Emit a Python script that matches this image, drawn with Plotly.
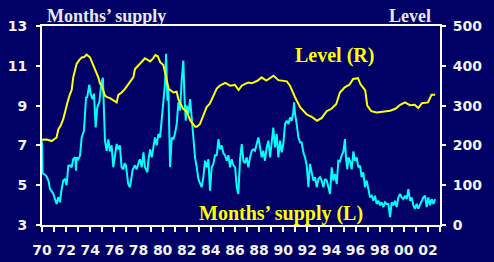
import plotly.graph_objects as go

# ---- Data ----
level_years = [1970.0, 1970.4, 1970.8, 1971.0, 1971.21, 1971.35, 1971.55, 1971.76, 1971.99, 1972.15,
               1972.32, 1972.46, 1972.59, 1972.87, 1973.1, 1973.29, 1973.5, 1973.7, 1973.98, 1974.25,
               1974.39, 1974.67, 1974.8, 1974.94, 1975.22, 1975.36, 1975.63, 1975.9, 1976.05, 1976.19,
               1976.33, 1976.6, 1976.88, 1977.29, 1977.57, 1977.71, 1978.12, 1978.54, 1978.96, 1979.2,
               1979.4, 1979.6, 1979.8, 1980.06, 1980.2, 1980.5, 1980.9, 1981.17, 1981.3, 1981.7,
               1982.0, 1982.3, 1982.7, 1982.83, 1983.1, 1983.5, 1983.66, 1983.9, 1984.3, 1984.49,
               1984.75, 1985.2, 1985.6, 1986.0, 1986.3, 1986.56, 1986.8, 1987.1, 1987.4, 1987.9,
               1988.2, 1988.6, 1989.2, 1989.6, 1990.3, 1990.56, 1990.98, 1991.4, 1991.95, 1992.4,
               1992.8, 1993.2, 1993.6, 1994.0, 1994.4, 1994.7, 1995.1, 1995.5, 1995.8, 1996.2,
               1996.4, 1996.8, 1996.97, 1997.3, 1997.75, 1998.3, 1998.86, 1999.3, 1999.7, 2000.1,
               2000.5, 2000.9, 2001.2, 2001.5, 2002.0, 2002.3, 2002.6]
level_values = [214, 215, 211, 216, 220, 240, 250, 266, 296, 312,
                329, 339, 371, 405, 415, 421, 422, 428, 421, 402,
                395, 371, 356, 350, 325, 322, 319, 314, 310, 308,
                327, 333, 342, 358, 371, 392, 406, 419, 411, 418,
                427, 424, 409, 402, 384, 342, 333, 335, 317, 292,
                285, 262, 247, 247, 254, 283, 297, 304, 333, 343,
                350, 357, 350, 352, 339, 350, 354, 358, 356, 363,
                371, 363, 375, 364, 361, 350, 321, 296, 278, 271,
                262, 269, 286, 292, 304, 333, 346, 353, 367, 369,
                354, 338, 300, 286, 283, 285, 287, 292, 302, 308,
                301, 302, 294, 306, 308, 327, 327]

supply_years = [1970.0, 1970.05, 1970.2, 1970.38, 1970.55, 1970.66, 1970.8, 1970.94, 1971.05, 1971.21,
                1971.35, 1971.49, 1971.6, 1971.76, 1971.9, 1972.04, 1972.18, 1972.3, 1972.46, 1972.59,
                1972.75, 1972.82, 1972.87, 1973.0, 1973.15, 1973.29, 1973.48, 1973.56, 1973.65, 1973.75,
                1973.92, 1974.03, 1974.2, 1974.31, 1974.45, 1974.58, 1974.75, 1974.86, 1974.94, 1975.05,
                1975.14, 1975.22, 1975.36, 1975.5, 1975.63, 1975.77, 1975.91, 1976.05, 1976.19, 1976.33,
                1976.46, 1976.6, 1976.74, 1976.85, 1976.96, 1977.15, 1977.29, 1977.4, 1977.51, 1977.71,
                1977.85, 1977.98, 1978.12, 1978.27, 1978.41, 1978.54, 1978.74, 1978.82, 1978.96, 1979.1,
                1979.24, 1979.37, 1979.51, 1979.65, 1979.79, 1979.93, 1980.06, 1980.2, 1980.29, 1980.4,
                1980.48, 1980.62, 1980.76, 1980.89, 1981.03, 1981.17, 1981.31, 1981.45, 1981.59, 1981.72,
                1981.81, 1981.92, 1982.0, 1982.14, 1982.28, 1982.41, 1982.55, 1982.69, 1982.83, 1982.97,
                1983.1, 1983.24, 1983.38, 1983.52, 1983.66, 1983.8, 1983.93, 1984.07, 1984.21, 1984.35,
                1984.49, 1984.63, 1984.76, 1984.9, 1985.04, 1985.18, 1985.32, 1985.46, 1985.59, 1985.73,
                1985.87, 1986.01, 1986.15, 1986.28, 1986.42, 1986.56, 1986.7, 1986.83, 1986.97, 1987.11,
                1987.25, 1987.39, 1987.53, 1987.66, 1987.8, 1987.94, 1988.08, 1988.22, 1988.35, 1988.49,
                1988.63, 1988.77, 1988.91, 1989.05, 1989.18, 1989.32, 1989.46, 1989.6, 1989.74, 1989.87,
                1990.01, 1990.15, 1990.29, 1990.43, 1990.57, 1990.7, 1990.84, 1990.9, 1990.98, 1991.12,
                1991.26, 1991.4, 1991.53, 1991.67, 1991.81, 1991.95, 1992.09, 1992.22, 1992.36, 1992.5,
                1992.64, 1992.78, 1992.92, 1993.05, 1993.19, 1993.33, 1993.47, 1993.61, 1993.75, 1993.88,
                1994.02, 1994.16, 1994.3, 1994.44, 1994.57, 1994.71, 1994.85, 1994.99, 1995.12, 1995.2,
                1995.32, 1995.4, 1995.54, 1995.68, 1995.82, 1995.95, 1996.09, 1996.23, 1996.37, 1996.5,
                1996.64, 1996.78, 1996.92, 1997.06, 1997.2, 1997.34, 1997.47, 1997.61, 1997.75, 1997.89,
                1998.03, 1998.16, 1998.3, 1998.44, 1998.58, 1998.72, 1998.86, 1998.99, 1999.13, 1999.27,
                1999.41, 1999.55, 1999.69, 1999.82, 1999.96, 2000.1, 2000.24, 2000.38, 2000.51, 2000.65,
                2000.79, 2000.93, 2001.07, 2001.2, 2001.34, 2001.48, 2001.62, 2001.76, 2001.9, 2002.03,
                2002.17, 2002.31, 2002.45, 2002.59]
supply_values = [7.2, 5.6, 5.55, 5.45, 5.2, 4.8, 4.7, 4.56, 4.35, 4.06,
                 4.4, 4.14, 4.7, 5.23, 5.3, 5.0, 5.98, 6.0, 5.9, 6.32,
                 6.4, 5.73, 6.4, 6.3, 6.48, 7.4, 7.74, 8.49, 9.4, 9.42,
                 10.05, 9.6, 9.33, 9.6, 7.9, 8.9, 9.17, 9.75, 10.17, 10.4,
                 9.1, 7.24, 6.73, 7.3, 6.7, 7.0, 5.9, 6.6, 7.07, 6.8,
                 7.0, 5.9, 5.8, 6.1, 6.0, 5.06, 4.9, 5.3, 5.76, 6.0,
                 5.8, 6.07, 6.3, 5.9, 6.65, 5.9, 5.65, 6.23, 6.8, 6.4,
                 6.9, 7.4, 7.0, 7.57, 7.4, 8.41, 9.1, 10.1, 11.6, 9.25,
                 9.8, 5.9, 7.4, 7.3, 7.6, 8.07, 9.17, 8.75, 10.34, 11.26,
                 9.5, 8.24, 9.0, 8.6, 9.33, 8.4, 7.3, 6.4, 5.9, 5.3,
                 5.1, 4.9, 5.4, 6.23, 5.9, 6.3, 4.72, 5.9, 6.07, 6.5,
                 6.5, 7.32, 6.8, 7.0, 6.6, 6.5, 6.23, 6.5, 5.9, 6.3,
                 6.0, 5.9, 4.9, 4.56, 6.3, 7.07, 6.23, 6.1, 6.4, 5.9,
                 6.4, 6.73, 6.8, 6.73, 7.07, 7.4, 6.9, 6.4, 6.73, 6.23,
                 6.9, 7.24, 6.4, 7.4, 7.9, 6.9, 7.57, 6.4, 7.24, 6.65,
                 7.07, 8.07, 8.24, 8.07, 8.4, 8.24, 8.66, 9.17, 8.58, 8.07,
                 7.4, 7.15, 7.15, 6.65, 6.4, 5.98, 4.9, 6.07, 5.65, 5.23,
                 5.4, 4.9, 5.32, 5.4, 5.23, 4.9, 5.32, 5.23, 4.9, 4.56,
                 5.9, 5.23, 5.56, 5.06, 6.23, 6.2, 6.5, 6.7, 7.32, 6.4,
                 5.8, 6.4, 6.23, 5.8, 6.7, 6.23, 6.4, 5.9, 5.98, 5.4,
                 5.65, 4.9, 5.23, 4.72, 4.39, 4.47, 4.22, 4.47, 4.06, 4.22,
                 3.99, 4.14, 3.9, 4.14, 4.06, 4.06, 3.39, 4.14, 3.99, 4.22,
                 3.9, 4.39, 4.56, 4.39, 4.3, 4.47, 4.3, 4.8, 4.22, 4.39,
                 3.99, 3.82, 4.06, 3.82, 3.99, 4.22, 4.39, 4.47, 3.9, 4.39,
                 3.99, 4.3, 4.06, 4.3]

x_tick_vals = list(range(1970, 2003, 2))
x_tick_text = ["70", "72", "74", "76", "78", "80", "82", "84", "86", "88",
               "90", "92", "94", "96", "98", "00", "02"]
left_ticks = [3, 5, 7, 9, 11, 13]
right_ticks = [0, 100, 200, 300, 400, 500]

BG = "#000066"
TXT = "#f2f2f2"
tick_font = dict(family="DejaVu Sans", size=14, color=TXT, weight="bold")
serif = "Liberation Serif"

fig = go.Figure()
fig.add_trace(go.Scatter(x=supply_years, y=supply_values, mode="lines",
                         line=dict(color="#00ffff", width=2), yaxis="y", showlegend=False))
fig.add_trace(go.Scatter(x=level_years, y=level_values, mode="lines",
                         line=dict(color="#ffff00", width=2), yaxis="y2", showlegend=False))

fig.update_layout(
    width=494, height=262,
    margin=dict(l=42, r=54, t=26, b=37, autoexpand=False),
    paper_bgcolor=BG, plot_bgcolor=BG, hovermode=False,
    xaxis=dict(range=[1970, 2003], tickvals=x_tick_vals, ticktext=x_tick_text,
               ticks="outside", ticklen=5, tickwidth=2, tickcolor="white",
               minor=dict(dtick=1, ticks="outside", ticklen=5, tickwidth=2, tickcolor="white"),
               showline=True, linecolor="white", linewidth=2, mirror=True, automargin=False,
               showgrid=False, zeroline=False, tickfont=tick_font, ticklabelstandoff=6),
    yaxis=dict(range=[3, 13], tickvals=left_ticks, automargin=False,
               ticks="outside", ticklen=4, tickwidth=2, tickcolor="white",
               showline=True, linecolor="white", linewidth=2,
               showgrid=False, zeroline=False, tickfont=tick_font, ticklabelstandoff=6),
    yaxis2=dict(range=[0, 500], tickvals=right_ticks, overlaying="y", side="right",
                ticks="outside", ticklen=4, tickwidth=2, tickcolor="white", automargin=False,
                showline=True, linecolor="white", linewidth=2,
                showgrid=False, zeroline=False, tickfont=tick_font, ticklabelstandoff=4),
    yaxis3=dict(range=[0, 500], tickvals=right_ticks, overlaying="y", side="right",
                ticks="inside", ticklen=4, tickwidth=2, tickcolor="white", automargin=False,
                showticklabels=False, showline=False, showgrid=False, zeroline=False),
)

fig.add_annotation(text="<b>Months’ supply</b>", xref="paper", yref="paper",
                   x=0.0075, y=1.05, xanchor="left", yanchor="middle", showarrow=False,
                   font=dict(family=serif, size=18, color="#e8e8e8"))
fig.add_annotation(text="<b>Level</b>", xref="paper", yref="paper",
                   x=0.982, y=1.05, xanchor="right", yanchor="middle", showarrow=False,
                   font=dict(family=serif, size=18, color="#e8e8e8"))
fig.add_annotation(text="<b>Level (R)</b>", xref="paper", yref="paper",
                   x=0.736, y=0.854, xanchor="center", yanchor="middle", showarrow=False,
                   font=dict(family=serif, size=20, color="#ffff00"))
fig.add_annotation(text="<b>Months’ supply (L)</b>", xref="paper", yref="paper",
                   x=0.60, y=0.06, xanchor="center", yanchor="middle", showarrow=False,
                   font=dict(family=serif, size=20, color="#ffff00"))

# Remove the default page margin so the 494x262 figure fills the window exactly.
fig.write_html("out.html",
               config={"displayModeBar": False, "staticPlot": True},
               post_script="document.body.style.margin='0';"
                           "document.body.style.overflow='hidden';"
                           "document.body.style.background='#000066';")
